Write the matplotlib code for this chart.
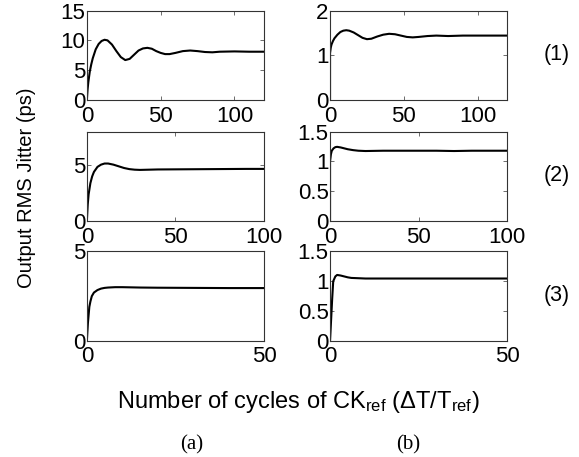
import matplotlib
matplotlib.use("Agg")
import matplotlib.pyplot as plt

plt.rcParams['font.family'] = ['Liberation Sans', 'DejaVu Sans']
plt.rcParams['mathtext.fontset'] = 'custom'
plt.rcParams['mathtext.rm'] = 'Liberation Sans'
plt.rcParams['mathtext.it'] = 'Liberation Sans:italic'

# (1a) jitter vs cycles
x1a = [0, 0.5, 1, 2, 3, 4, 6, 8, 10, 12, 14, 17, 20, 23, 26, 29, 32, 35, 38, 41,
       44, 47, 50, 53, 56, 60, 65, 70, 75, 80, 85, 90, 100, 110, 120]
y1a = [0, 1.8, 3.0, 4.8, 6.0, 7.0, 8.5, 9.4, 9.9, 10.1, 10.0, 9.3, 8.2, 7.2, 6.7, 6.9,
       7.6, 8.3, 8.65, 8.75, 8.6, 8.2, 7.9, 7.7, 7.7, 7.9, 8.2, 8.3, 8.2, 8.05, 8.0,
       8.1, 8.15, 8.1, 8.1]
# (1b)
x1b = [0, 0, 0.5, 1, 2, 3, 5, 7, 9, 11, 13, 16, 19, 22, 25, 28, 32, 36, 40, 44,
       48, 52, 56, 60, 66, 72, 80, 90, 100, 120]
y1b = [0, 1.05, 1.17, 1.24, 1.32, 1.38, 1.46, 1.52, 1.55, 1.56, 1.55, 1.51, 1.45,
       1.39, 1.36, 1.37, 1.42, 1.46, 1.48, 1.47, 1.44, 1.41, 1.40, 1.41, 1.43,
       1.44, 1.43, 1.44, 1.44, 1.44]
# (2a)
x2a = [0, 0.5, 1, 2, 3, 4, 6, 8, 10, 12, 15, 18, 21, 24, 27, 30, 35, 40, 50, 60,
       70, 80, 90, 100]
y2a = [0, 1.5, 2.4, 3.4, 4.0, 4.4, 4.85, 5.05, 5.15, 5.15, 5.05, 4.9, 4.75, 4.65,
       4.6, 4.58, 4.6, 4.62, 4.63, 4.64, 4.65, 4.66, 4.67, 4.67]
# (2b)
x2b = [0, 0, 0.5, 1, 2, 3, 4, 6, 8, 10, 13, 16, 20, 30, 40, 50, 60, 70, 80, 90, 100]
y2b = [0, 1.0, 1.12, 1.18, 1.22, 1.24, 1.245, 1.235, 1.22, 1.205, 1.19, 1.18,
       1.175, 1.18, 1.18, 1.18, 1.18, 1.175, 1.18, 1.18, 1.18]
# (3a)
x3a = [0, 0.3, 0.7, 1.0, 1.4, 2, 3, 4, 5, 6, 8, 10, 15, 20, 30, 40, 50]
y3a = [0, 1.0, 1.9, 2.2, 2.5, 2.7, 2.84, 2.92, 2.96, 2.98, 3.0, 3.0, 2.98, 2.97,
       2.96, 2.95, 2.95]
# (3b)
x3b = [0, 0.3, 0.6, 0.9, 1.5, 2, 2.5, 3, 4, 5, 6, 8, 10, 20, 30, 40, 50]
y3b = [0, 0.35, 0.7, 1.0, 1.08, 1.105, 1.10, 1.095, 1.08, 1.065, 1.055, 1.05,
       1.045, 1.045, 1.045, 1.045, 1.045]

panels = [
    (x1a, y1a, (0, 120), (0, 15), [0, 50, 100], [0, 5, 10, 15], ['0', '5', '10', '15']),
    (x1b, y1b, (0, 120), (0, 2), [0, 50, 100], [0, 1, 2], ['0', '1', '2']),
    (x2a, y2a, (0, 100), (0, 8), [0, 50, 100], [0, 5], ['0', '5']),
    (x2b, y2b, (0, 100), (0, 1.5), [0, 50, 100], [0, 0.5, 1, 1.5], ['0', '0.5', '1', '1.5']),
    (x3a, y3a, (0, 50), (0, 5), [0, 50], [0, 5], ['0', '5']),
    (x3b, y3b, (0, 50), (0, 1.5), [0, 50], [0, 0.5, 1, 1.5], ['0', '0.5', '1', '1.5']),
]
row_labels = ['(1)', '(2)', '(3)']

fig = plt.figure(figsize=(5.79, 4.57), dpi=100)
lefts = [0.150, 0.570]
bottoms = [0.781, 0.516, 0.254]
w, h = 0.306, 0.196

for i, (x, y, xl, yl, xt, yt, ytl) in enumerate(panels):
    r, c = divmod(i, 2)
    ax = fig.add_axes([lefts[c], bottoms[r], w, h])
    ax.plot(x, y, color='black', lw=1.5)
    ax.set_xlim(*xl)
    ax.set_ylim(*yl)
    ax.set_xticks(xt)
    ax.set_yticks(yt)
    ax.set_yticklabels(ytl)
    ax.tick_params(direction='in', top=True, right=True, labelsize=16,
                   length=3, width=0.6, color='#555555')
    ax.tick_params(axis='y', pad=1)
    ax.tick_params(axis='x', pad=4)
    for s in ax.spines.values():
        s.set_linewidth(0.8)
        s.set_color('#333333')

for r, lab in enumerate(row_labels):
    fig.text(0.962, bottoms[r] + h / 2 + 0.002, lab, fontsize=15.5, ha='center', va='center')

fig.text(0.045, 0.59, 'Output RMS Jitter (ps)', rotation=90, fontsize=14.5,
         ha='center', va='center')
fig.text(0.515, 0.120, r'Number of cycles of CK$_{\rm ref}$ ($\Delta$T/T$_{\rm ref}$)',
         fontsize=17, ha='center', va='center')
fig.text(0.331, 0.026, '(a)', fontsize=15, family='Liberation Serif', ha='center', va='center')
fig.text(0.705, 0.026, '(b)', fontsize=15, family='Liberation Serif', ha='center', va='center')

fig.savefig('out.png', dpi=100)
